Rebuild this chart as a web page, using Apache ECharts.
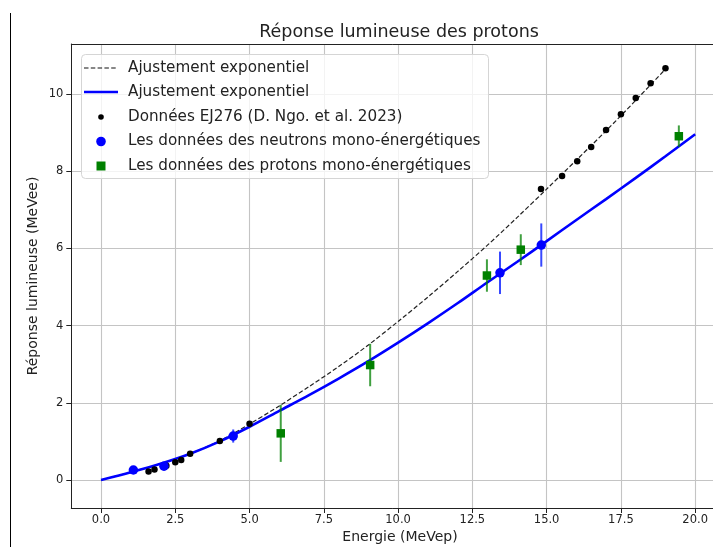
<!DOCTYPE html>
<html><head><meta charset="utf-8">
<script src="https://cdn.jsdelivr.net/npm/echarts@6/dist/echarts.min.js"></script>
<style>html,body{margin:0;padding:0;background:#fff}#c{width:713px;height:547px}</style>
</head><body><div id="c"></div>
<script>
// ---- data ----
const xTicks = [0, 2.5, 5, 7.5, 10, 12.5, 15, 17.5, 20];
const yTicks = [0, 2, 4, 6, 8, 10];

const fitDashE = [0,1,2,3,4,5,6,7,8,9,10,11,12,13,14,15,16,17,18,19];
const fitDashL = [0,0.2,0.42,0.68,1.02,1.45,1.92,2.42,2.94,3.5,4.11,4.74,5.4,6.08,6.8,7.54,8.29,9.05,9.84,10.65];

const fitBlueE = [0,1,2,3,4,5,6,7,8,9,10,11,12,13,14,15,16,17,18,19,20];
const fitBlueL = [0,0.2,0.42,0.68,1.0,1.38,1.79,2.2,2.63,3.08,3.56,4.06,4.58,5.12,5.65,6.19,6.74,7.28,7.83,8.39,8.96];

const ej276E = [1.6,1.8,2.2,2.5,2.7,3.0,4.0,5.0,14.81,15.52,16.03,16.5,17.0,17.5,18.0,18.5,19.0];
const ej276L = [0.22,0.27,0.37,0.46,0.52,0.68,1.01,1.46,7.54,7.88,8.26,8.63,9.07,9.48,9.9,10.28,10.67];

const neutronE = [1.09,2.12,4.45,13.43,14.82];
const neutronL = [0.26,0.36,1.14,5.37,6.09];
const neutronErr = [0.04,0.05,0.17,0.55,0.56];

const protonE = [6.05,9.06,12.99,14.13,19.45];
const protonL = [1.21,2.98,5.30,5.97,8.91];
const protonErr = [0.74,0.55,0.42,0.40,0.28];

const legendLabels = [
  'Ajustement exponentiel',
  'Ajustement exponentiel',
  'Données EJ276 (D. Ngo. et al. 2023)',
  'Les données des neutrons mono-énergétiques',
  'Les données des protons mono-énergétiques'
];
const titleText = 'Réponse lumineuse des protons';
const xName = 'Energie (MeVep)';
const yName = 'Réponse lumineuse (MeVee)';

// ---- build ----
const zip = (a, b, c) => a.map((v, i) => c ? [v, b[i], c[i]] : [v, b[i]]);
const FONT = 'DejaVu Sans';
const chart = echarts.init(document.getElementById('c'), null, {renderer: 'canvas'});

function errBar(color, width) {
  return function (params, api) {
    const x = api.value(0), y = api.value(1), e = api.value(2);
    const p1 = api.coord([x, y - e]);
    const p2 = api.coord([x, y + e]);
    return {type: 'line', shape: {x1: p1[0], y1: p1[1], x2: p2[0], y2: p2[1]},
            style: {stroke: color, lineWidth: width}};
  };
}

const axisCommon = {
  axisLine: {show: true, onZero: false, lineStyle: {color: '#222', width: 1}},
  axisTick: {show: true, length: 5, lineStyle: {color: '#222', width: 1}},
  splitLine: {show: true, lineStyle: {color: '#c4c4c4', width: 1.1}},
};

const LX = 81, LY = 54;
const rows = [68, 92, 117, 141.5, 166];
const legendGraphics = [
  {type: 'rect', shape: {x: LX + 0.5, y: LY + 0.5, width: 407, height: 124, r: 4},
   style: {fill: 'rgba(255,255,255,0.8)', stroke: '#d5d5d5', lineWidth: 1}, z: 100},
  {type: 'line', shape: {x1: 84, y1: rows[0], x2: 118, y2: rows[0]},
   style: {stroke: '#111', lineWidth: 1.2, lineDash: [4.5, 2.3]}, z: 101},
  {type: 'line', shape: {x1: 84, y1: rows[1], x2: 118, y2: rows[1]},
   style: {stroke: '#0000ff', lineWidth: 2.6}, z: 101},
  {type: 'circle', shape: {cx: 101, cy: rows[2], r: 2.8}, style: {fill: '#000'}, z: 101},
  {type: 'circle', shape: {cx: 101, cy: rows[3], r: 4.8}, style: {fill: '#0000ff'}, z: 101},
  {type: 'rect', shape: {x: 96.5, y: rows[4] - 4.5, width: 9, height: 9}, style: {fill: '#008000'}, z: 101},
].concat(legendLabels.map((t, i) => ({
  type: 'text', x: 128, y: rows[i], z: 101,
  style: {text: t, fill: '#222', font: '15.2px "' + FONT + '"', textVerticalAlign: 'middle', verticalAlign: 'middle'}
})));

const option = {
  animation: false,
  backgroundColor: '#fff',
  grid: {left: 71.3, right: 0, top: 44, bottom: 39, containLabel: false},
  xAxis: [
    Object.assign({}, axisCommon, {
      type: 'value', min: -1, max: 20.6, position: 'bottom',
      axisTick: Object.assign({}, axisCommon.axisTick, {customValues: xTicks}),
      axisLabel: {customValues: xTicks, formatter: v => v.toFixed(1), color: '#222',
                  fontSize: 11.5, fontFamily: FONT, margin: 6},
    }),
    {type: 'value', min: -1, max: 20.6, position: 'top',
     axisLine: {show: true, onZero: false, lineStyle: {color: '#222', width: 1}},
     axisTick: {show: false}, axisLabel: {show: false}, splitLine: {show: false}}
  ],
  yAxis: Object.assign({}, axisCommon, {
    type: 'value', min: -0.725, max: 11.3,
    axisTick: Object.assign({}, axisCommon.axisTick, {customValues: yTicks}),
    axisLabel: {customValues: yTicks, color: '#222', fontSize: 11.5, fontFamily: FONT, margin: 8},
  }),
  graphic: [
    {type: 'line', shape: {x1: 10.5, y1: 13, x2: 10.5, y2: 547}, style: {stroke: '#000', lineWidth: 1}},
    {type: 'text', x: 399, y: 32, style: {text: titleText, fill: '#222', font: '17.5px "' + FONT + '"',
      textAlign: 'center', align: 'center', textVerticalAlign: 'middle', verticalAlign: 'middle'}},
    {type: 'text', x: 400, y: 537, style: {text: xName, fill: '#222', font: '14px "' + FONT + '"',
      textAlign: 'center', align: 'center', textVerticalAlign: 'middle', verticalAlign: 'middle'}},
    {type: 'text', x: 33, y: 276, rotation: Math.PI / 2, style: {text: yName, fill: '#222',
      font: '14px "' + FONT + '"', textAlign: 'center', align: 'center',
      textVerticalAlign: 'middle', verticalAlign: 'middle'}},
  ].concat(legendGraphics),
  series: [
    {type: 'line', data: zip(fitDashE, fitDashL), symbol: 'none', smooth: 0.3, z: 2,
     lineStyle: {color: '#222', width: 1.2, type: [4.5, 2.3]}},
    {type: 'line', data: zip(fitBlueE, fitBlueL), symbol: 'none', smooth: 0.3, z: 3,
     lineStyle: {color: '#0000ff', width: 2.6}},
    {type: 'scatter', data: zip(ej276E, ej276L), symbol: 'circle', symbolSize: 6.5, z: 4,
     itemStyle: {color: '#000', opacity: 1}},
    {type: 'custom', data: zip(neutronE, neutronL, neutronErr), renderItem: errBar('rgba(20,40,255,0.85)', 2), z: 5},
    {type: 'scatter', data: zip(neutronE, neutronL), symbol: 'circle', symbolSize: 9.5, z: 6,
     itemStyle: {color: '#0000ff', opacity: 1}},
    {type: 'custom', data: zip(protonE, protonL, protonErr), renderItem: errBar('rgba(0,128,0,0.75)', 2), z: 7},
    {type: 'scatter', data: zip(protonE, protonL), symbol: 'rect', symbolSize: 8.5, z: 8,
     itemStyle: {color: '#008000', opacity: 1}},
  ]
};
chart.setOption(option);
</script>
</body></html>
